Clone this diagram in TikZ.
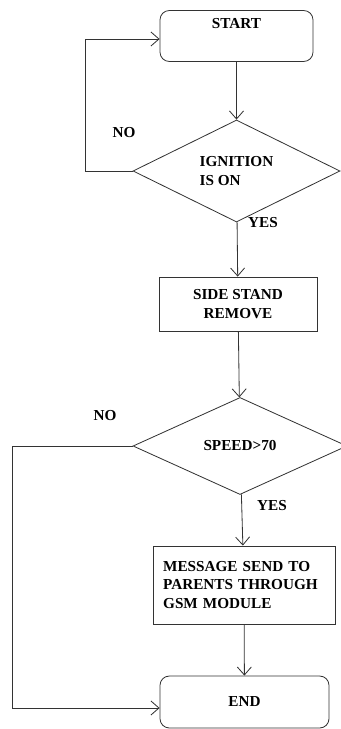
\documentclass[tikz,border=0pt]{standalone}
\usepackage{fontspec}
\setmainfont{Liberation Serif}
\usepackage{tikz}
\usetikzlibrary{arrows.meta,shapes.geometric}
\definecolor{fline}{HTML}{333333}

\begin{document}
\begin{tikzpicture}[x=0.03cm,y=-0.03cm,font=\fontsize{13}{15.5}\selectfont\bfseries,
  term/.style={draw=fline,line width=0.7pt,rounded corners=8pt,minimum width=4.59cm,minimum height=1.53cm,align=center},
  proc/.style={draw=fline,line width=0.7pt,minimum height=1.62cm,align=center},
  decide/.style={draw=fline,line width=0.7pt,diamond,inner sep=0pt,align=left},
  arr/.style={draw=fline,line width=0.7pt,-{Straight Barb[length=2.4mm,width=4.2mm]}}]
  \useasboundingbox (0,0) rectangle (341,729);
  \node[term] (start) at (236.5,36) {START\\[1pt]\strut};
  \node[decide,minimum width=6.21cm,minimum height=2.82cm] (ign) at (236.5,171) {IGNITION\\IS ON};
  \node[proc,minimum width=4.74cm] (side) at (238,304) {SIDE STAND\\REMOVE};
  \node[decide,minimum width=6.42cm,minimum height=2.91cm] (speed) at (240,446) {SPEED>70};
  \node[proc,text width=4.85cm,minimum width=5.46cm,minimum height=2.34cm,align=left] (msg) at (244,585) {MESSAGE SEND TO\\PARENTS THROUGH\\GSM MODULE};
  \node[term,minimum width=5.07cm,minimum height=1.56cm] (end) at (244.5,702) {END};
  \node (no1) at (124,133) {NO};
  \node (yes1) at (263,223) {YES};
  \node (no2) at (105,416) {NO};
  \node (yes2) at (272,506) {YES};
  \draw[arr] (start) -- (ign);
  \draw[arr] (ign) -- (side);
  \draw[arr] (side) -- (speed);
  \draw[arr] (speed) -- (msg);
  \draw[arr] (msg) -- (end);
  \draw[arr] (ign.west) -- ++(-47,0) |- ([yshift=-0.09cm]start.west);
  \draw[arr] (speed.west) -- ++(-120,0) |- ([yshift=-0.18cm]end.west);
\end{tikzpicture}
\end{document}
